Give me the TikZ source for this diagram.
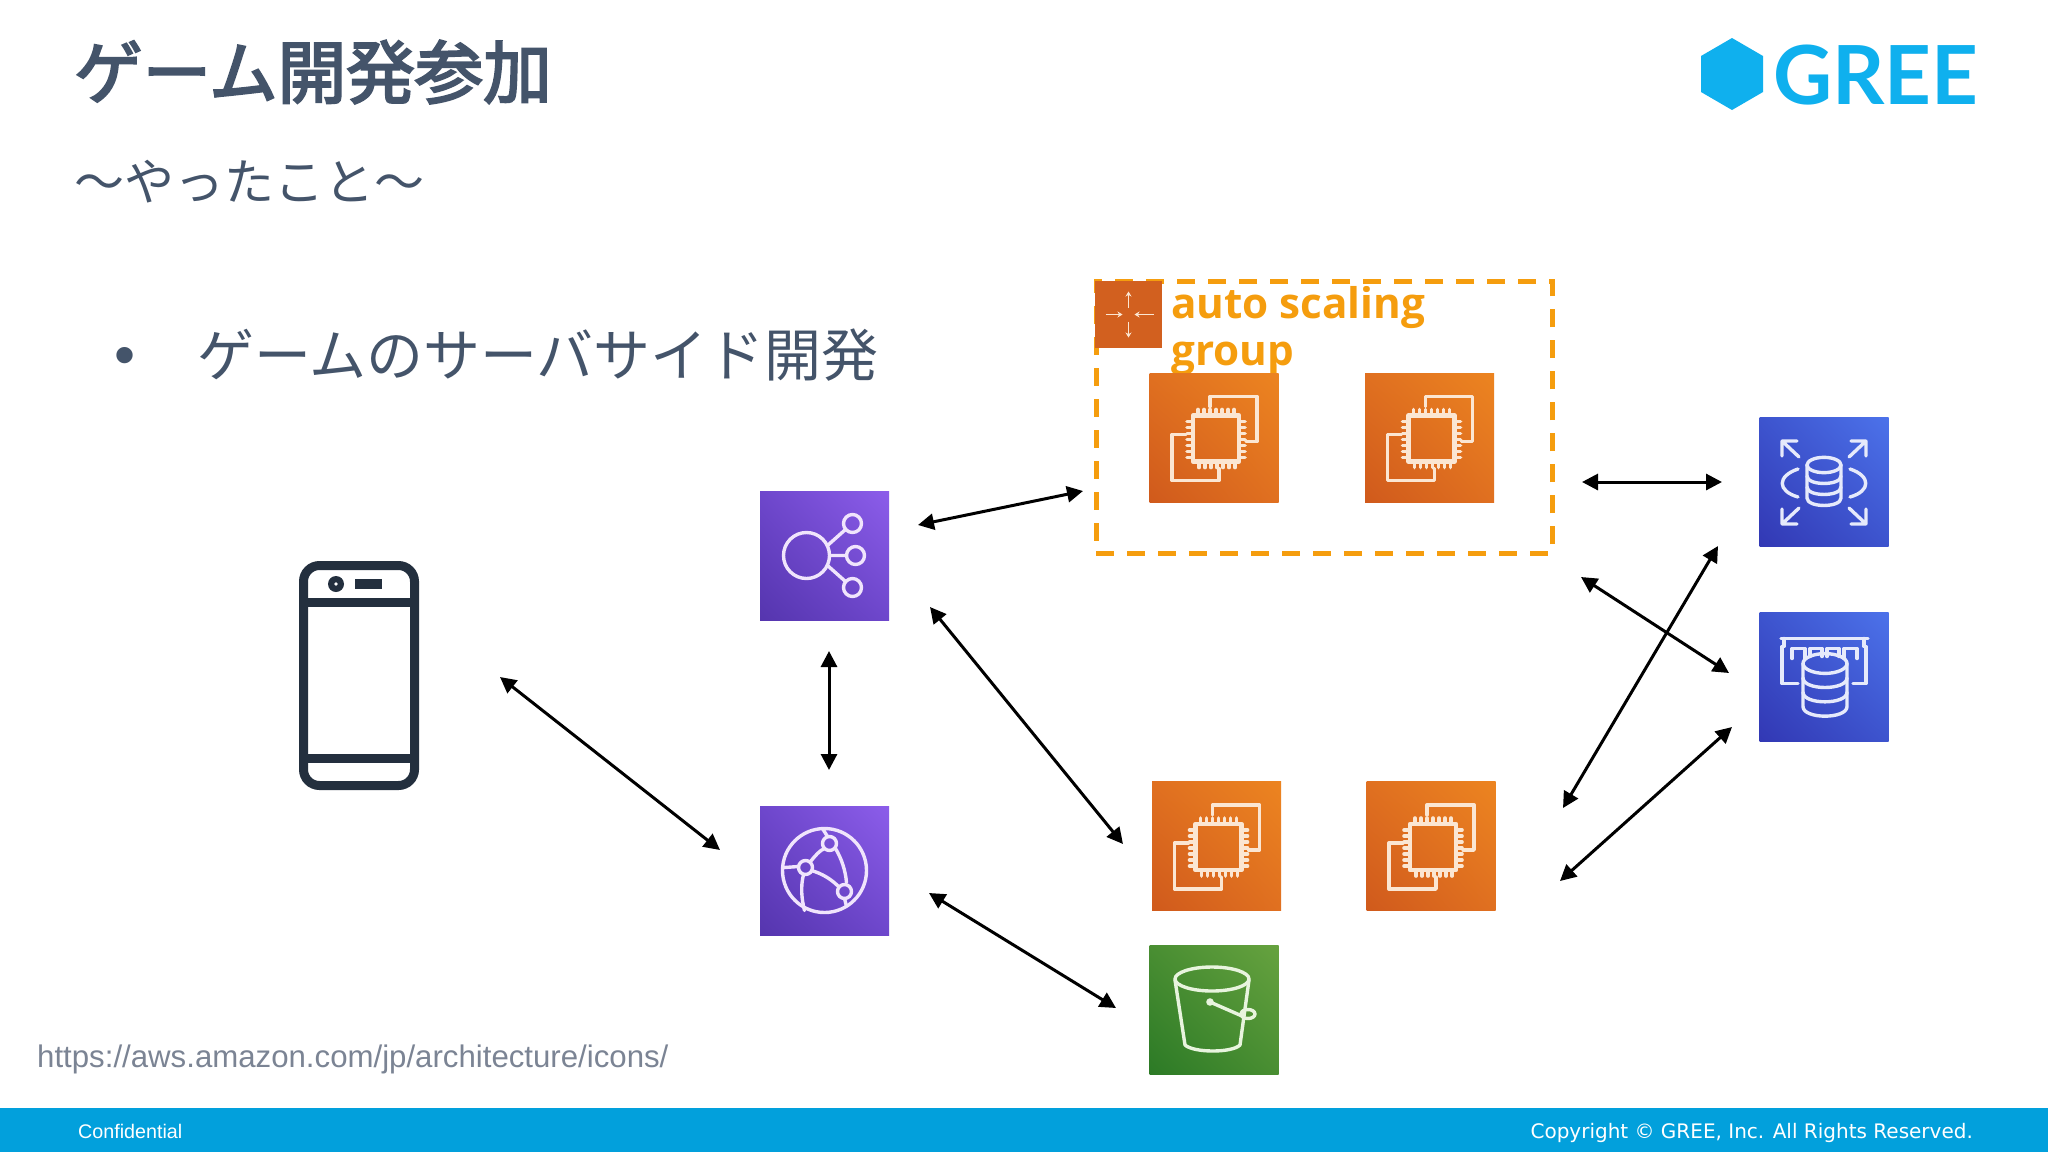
\documentclass[tikz,border=0pt]{standalone}
\usepackage{fontspec}
\setmainfont{Liberation Sans}
\newfontfamily\cjkf{Noto Sans CJK JP}
\newfontfamily\cjkt{Noto Sans CJK JP}[FakeBold=3.2]
\newfontfamily\greef{Lato}
\newfontfamily\dvf{DejaVu Sans}
\newfontfamily\ascf{Open Sans}
\usetikzlibrary{arrows.meta,calc,shadings}
\definecolor{titlec}{HTML}{44546A}
\definecolor{barc}{HTML}{02A0DC}
\definecolor{greec}{HTML}{0FB0EE}
\definecolor{asgline}{HTML}{F59D0E}
\definecolor{phonec}{HTML}{232F3E}
\definecolor{oLL}{HTML}{D05A1C}\definecolor{oUR}{HTML}{EC8420}\definecolor{oM}{HTML}{E07020}
\definecolor{pLL}{HTML}{5535AE}\definecolor{pUR}{HTML}{8C5DEA}\definecolor{pM}{HTML}{6E47CC}
\definecolor{bLL}{HTML}{3238B4}\definecolor{bUR}{HTML}{4C72EA}\definecolor{bM}{HTML}{3D54CE}
\definecolor{gLL}{HTML}{2C7A26}\definecolor{gUR}{HTML}{66A23F}\definecolor{gM}{HTML}{498E32}
\definecolor{asgfill}{HTML}{D2601F}
\definecolor{urlc}{HTML}{7B8494}
\definecolor{ecline}{HTML}{FBE6D2}
\definecolor{pline}{HTML}{F0E4FC}
\definecolor{bline}{HTML}{E6EAFB}
\definecolor{gline}{HTML}{E8F4DE}
\tikzset{
  x=1pt,y=-1pt,
  icon/.style={minimum size=129pt,inner sep=0pt,outer sep=0pt},
  svcorange/.style={icon,lower left=oLL,upper right=oUR,lower right=oM,upper left=oM},
  svcpurple/.style={icon,lower left=pLL,upper right=pUR,lower right=pM,upper left=pM},
  svcblue/.style={icon,lower left=bLL,upper right=bUR,lower right=bM,upper left=bM},
  svcgreen/.style={icon,lower left=gLL,upper right=gUR,lower right=gM,upper left=gM},
  glyph/.style={draw=#1,line width=3.4pt,line cap=round,line join=round},
  arr/.style={{Triangle[length=16pt,width=16pt]}-{Triangle[length=16pt,width=16pt]},line width=3pt,black},
  title/.style={anchor=west,inner sep=0pt,text=titlec},
}
\newcommand{\ecicon}[1]{%
  \begin{scope}[shift={(#1.center)}]
    \draw[glyph=ecline] (-4,-31) -- (-4,-41) -- (43,-41) -- (43,4) -- (32,4);
    \draw[glyph=ecline] (-28,-3) -- (-42,-3) -- (-42,43) -- (5,43) -- (5,31);
    \draw[glyph=ecline,line width=4.4pt] (-21,-22) rectangle (25,24);
    \foreach \p in {-16,-10,-4,2,8,14,20}{
      \draw[glyph=ecline,line width=3.6pt] (\p,-22) -- (\p,-28);
      \draw[glyph=ecline,line width=3.6pt] (\p+1,24) -- (\p+1,30);
      \draw[glyph=ecline,line width=3.6pt] (-21,\p) -- (-27,\p);
      \draw[glyph=ecline,line width=3.6pt] (25,\p) -- (31,\p);
    }
  \end{scope}}
\newcommand{\cylglyph}[5]{% colour, cx, rx, ytop, ybottom
  \pgfmathsetmacro{\ya}{#4+(#5-#4)/3}
  \pgfmathsetmacro{\yb}{#4+2*(#5-#4)/3}
  \pgfmathsetmacro{\rb}{#3*0.45}
  \draw[glyph=#1] (#2,#4) ellipse [x radius=#3,y radius=\rb];
  \draw[glyph=#1] ({#2-#3},#4) -- ({#2-#3},#5) .. controls ({#2-#3},{#5+\rb*1.3}) and ({#2+#3},{#5+\rb*1.3}) .. ({#2+#3},#5) -- ({#2+#3},#4);
  \draw[glyph=#1] ({#2-#3},\ya) .. controls ({#2-#3},{\ya+\rb*1.3}) and ({#2+#3},{\ya+\rb*1.3}) .. ({#2+#3},\ya);
  \draw[glyph=#1] ({#2-#3},\yb) .. controls ({#2-#3},{\yb+\rb*1.3}) and ({#2+#3},{\yb+\rb*1.3}) .. ({#2+#3},\yb);
}
\begin{document}
\begin{tikzpicture}
\useasboundingbox (0,0) rectangle (2048,1152);
\fill[white] (0,0) rectangle (2048,1152);
\fill[barc] (0,1108) rectangle (2048,1152);

% texts
\node[title] (ttl) at (74,72) {\cjkt\fontsize{68.5}{80}\selectfont ゲーム開発参加};
\node[title] (sub) at (74,181.5) {\cjkf\fontsize{50}{60}\selectfont ～やったこと～};
\node[anchor=center,inner sep=0pt,text=titlec] (bul) at (125.5,361) {\fontsize{60}{70}\selectfont •};
\node[title] (bt) at (197,355) {\cjkf\fontsize{57}{66}\selectfont ゲームのサーバサイド開発};
\node[anchor=west,inner sep=0pt,text=urlc] (url) at (37,1059.5) {\fontsize{31.2}{38}\selectfont https://aws.amazon.com/jp/architecture/icons/};
\node[anchor=west,inner sep=0pt,text=white] (conf) at (78,1131) {\fontsize{19.7}{24}\selectfont Confidential};
\node[anchor=east,inner sep=0pt,text=white] (copy) at (1973,1133) {\dvf\fontsize{20}{24}\selectfont Copyright © GREE, Inc. All Rights Reserved.};

% logo
\fill[greec] (1732,38) -- (1763,56) -- (1763,92) -- (1732,110) -- (1701,92) -- (1701,56) -- cycle;
\node[anchor=base west,inner sep=0pt,text=greec] (gree) at (1773,104) {\greef\bfseries\fontsize{81.5}{90}\selectfont GREE};

% auto scaling box
\node[draw=asgline,line width=5pt,dash pattern=on 17.7pt off 13.3pt,minimum width=456pt,minimum height=272pt,inner sep=0pt,outer sep=0pt,anchor=north west] (asg) at (1096,281) {};
\node[fill=asgfill,minimum size=67pt,inner sep=0pt,outer sep=0pt,anchor=north west] (asgicon) at (1095,281) {};
\begin{scope}[shift={(asgicon.center)}]
  \tikzset{wa/.style={draw=ecline,line width=1.6pt,-{Stealth[length=5pt,width=6pt]}}}
  \draw[wa] (0,-7) -- (0,-23);
  \draw[wa] (0,7) -- (0,23);
  \draw[wa] (-23,0) -- (-6,0);
  \draw[wa] (25,0) -- (6,0);
\end{scope}
\node[anchor=base west,inner sep=0pt,text=asgline] (asgt1) at (1171,318) {\ascf\bfseries\fontsize{42.2}{47}\selectfont auto scaling};
\node[anchor=base west,inner sep=0pt,text=asgline] (asgt2) at (1171,365) {\ascf\bfseries\fontsize{42.2}{47}\selectfont group};

% service icons
\node[svcorange] (ec2a) at (1214,437.5) {};
\node[svcorange] (ec2b) at (1429.5,437.5) {};
\node[svcorange] (ec2c) at (1216.5,846) {};
\node[svcorange] (ec2d) at (1431,846) {};
\node[svcpurple] (elb) at (824.5,555.5) {};
\node[svcpurple] (cf) at (824.5,870.5) {};
\node[svcgreen] (s3) at (1214,1010) {};
\node[svcblue] (rds) at (1824,482) {};
\node[svcblue] (cache) at (1824,676.5) {};
\ecicon{ec2a}\ecicon{ec2b}\ecicon{ec2c}\ecicon{ec2d}

% ELB glyph
\begin{scope}[shift={(elb.center)}]
  \draw[glyph=pline] (-18,0) circle (23);
  \draw[glyph=pline] (28,-32) circle (9) (31,0) circle (9) (28,32) circle (9);
  \draw[glyph=pline] (3,-10) -- (21,-26) (5,0) -- (22,0) (3,10) -- (21,26);
\end{scope}

% CloudFront glyph
\begin{scope}[shift={(cf.center)}]
  \draw[glyph=pline] (0,0) circle (42);
  \draw[glyph=pline] (5,-27) circle (7) (-19,-3) circle (7) (20,21) circle (7);
  \draw[glyph=pline] (-14,-9) .. controls (-9,-15) and (-5,-20) .. (0,-22);
  \draw[glyph=pline] (-13,0) .. controls (-3,3) and (6,8) .. (14,16);
  \draw[glyph=pline] (11,-22) .. controls (17,-12) and (21,0) .. (22,12);
  \draw[glyph=pline] (-21,4) .. controls (-24,16) and (-23,28) .. (-20,40);
  \draw[glyph=pline] (-40,-3) -- (-26,-4);
  \draw[glyph=pline] (-2,-42) -- (3,-34);
  \draw[glyph=pline] (20,28) -- (22,36);
\end{scope}

% S3 glyph
\begin{scope}[shift={(s3.center)}]
  \draw[glyph=gline] (-2,-31) ellipse [x radius=37,y radius=12];
  \draw[glyph=gline] (-39,-30) -- (-29,35) .. controls (-20,43) and (18,43) .. (26,35) -- (35,-30);
  \draw[glyph=gline,fill=gline] (-4,-8) circle (2);
  \draw[glyph=gline] (-4,-8) -- (28,6);
  \draw[glyph=gline] (34,4) ellipse [x radius=7,y radius=4.5];
\end{scope}

% RDS glyph
\begin{scope}[shift={(rds.center)}]
  \cylglyph{bline}{0}{17}{-17}{16}
  \draw[glyph=bline] (-26,-13) .. controls (-47,-6) and (-47,9) .. (-26,15);
  \draw[glyph=bline] (26,-13) .. controls (47,-6) and (47,9) .. (26,15);
  \draw[glyph=bline] (-25,-25) -- (-42,-41) (-42,-26) -- (-42,-41) -- (-27,-41);
  \draw[glyph=bline] (25,-25) -- (42,-41) (42,-26) -- (42,-41) -- (27,-41);
  \draw[glyph=bline] (-25,26) -- (-42,42) (-42,27) -- (-42,42) -- (-27,42);
  \draw[glyph=bline] (25,26) -- (42,42) (42,27) -- (42,42) -- (27,42);
\end{scope}

% ElastiCache glyph
\begin{scope}[shift={(cache.center)}]
  \draw[glyph=bline] (-43,-38) -- (44,-38);
  \draw[glyph=bline] (-40,-38) -- (-40,-30) -- (-42,-30) -- (-42,7) -- (-26,7);
  \draw[glyph=bline] (40,-38) -- (40,-30) -- (42,-30) -- (42,7) -- (29,7);
  \draw[glyph=bline] (-32,-18) -- (-32,-28) -- (-19,-28) -- (-19,-18);
  \draw[glyph=bline] (-14,-20) -- (-14,-28) -- (-2,-28) -- (-2,-20);
  \draw[glyph=bline] (3,-20) -- (3,-28) -- (15,-28) -- (15,-20);
  \draw[glyph=bline] (20,-18) -- (20,-28) -- (33,-28) -- (33,-18);
  \cylglyph{bline}{1}{22}{-13}{30}
\end{scope}

% phone
\node[draw=phonec,line width=9pt,rounded corners=16pt,minimum width=111pt,minimum height=220pt,inner sep=0pt] (phone) at (359,675.5) {};
\draw[phonec,line width=9pt] (303.5,602) -- (414.5,602);
\draw[phonec,line width=9pt] (303.5,758) -- (414.5,758);
\fill[phonec] (336,584) circle (8);
\fill[white] (336,584) circle (1.8);
\fill[phonec] (355,579) rectangle (382,589);

% connectors
\coordinate (c1a) at (500,677); \coordinate (c1b) at (720,850);
\coordinate (c2a) at (918,525); \coordinate (c2b) at (1083,491);
\coordinate (c3a) at (930,607); \coordinate (c3b) at (1123,844);
\coordinate (c4a) at (929,893); \coordinate (c4b) at (1116,1008);
\coordinate (c5a) at (1582,482); \coordinate (c5b) at (1722,482);
\coordinate (c6a) at (1581,577); \coordinate (c6b) at (1729,673);
\coordinate (c7a) at (1718,546); \coordinate (c7b) at (1563,808);
\coordinate (c8a) at (1732,727); \coordinate (c8b) at (1560,881);
\coordinate (c9a) at (829,651); \coordinate (c9b) at (829,770);
\foreach \n in {1,...,9}{\draw[arr] (c\n a) -- (c\n b);}
\end{tikzpicture}
\end{document}
